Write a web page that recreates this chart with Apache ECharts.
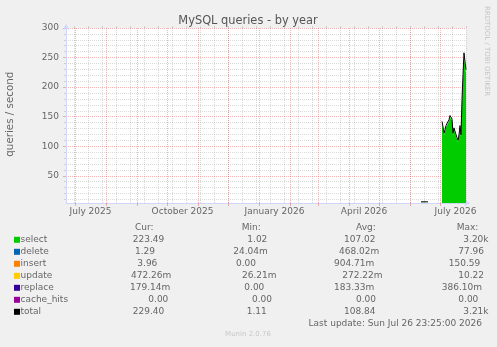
<!DOCTYPE html>
<html><head><meta charset="utf-8">
<script src="https://cdn.jsdelivr.net/npm/echarts@6/dist/echarts.min.js"></script>
<style>html,body{margin:0;padding:0;background:#f0f0f0;}#c{width:497px;height:347px;}</style>
</head><body><div id="c"></div>
<script>
// ---- axis ticks / labels (x in days since 2025-06-22) ----
const monthStarts = [9, 40, 71, 101, 132, 162, 193, 224, 252, 283, 313, 344, 374];
const biweekly = [8, 22, 36, 50, 64, 78, 92, 106, 120, 134, 148, 162, 176, 190, 204, 218, 232, 246, 260, 274, 288, 302, 316, 330, 344, 358, 372, 386, 400];
const monthLabelPos = [24.5, 116.5, 208.5, 298, 389.5];
const monthLabels = ['July 2025', 'October 2025', 'January 2026', 'April 2026', 'July 2026'];
const yMajor = [50, 100, 150, 200, 250, 300];
const yMinor = [10, 20, 30, 40, 60, 70, 80, 90, 110, 120, 130, 140, 160, 170, 180, 190, 210, 220, 230, 240, 260, 270, 280, 290];

// ---- series data ----
const days = [355, 356, 357, 358, 359, 360, 361, 362, 363,
  376, 377, 378, 379, 380, 381, 382, 383, 384, 385, 386, 387, 388, 389, 390, 391, 392, 393, 394, 395, 396, 397, 398, 399, 400];
const select = [4.5, 4.5, 4.5, 4.5, 4.5, 4.5, 4.5, 4.5, null,
  139.17, 130.17, 119.17, 125.17, 132.17, 133.17, 133.67, 142.17, 149.17, 150.17, 143.17, 119.17, 128.17, 130.17, 116.67, 111.67, 107.17, 116.67, 132.17, 116.67, 174.1, 212.75, 250.9, 236.5, 223.49];
const del = [0.6, 0.6, 0.6, 0.6, 0.6, 0.6, 0.6, 0.6, null,
  1.0, 1.0, 1.0, 1.0, 1.0, 1.0, 1.0, 1.0, 1.0, 1.0, 1.0, 1.0, 1.0, 1.0, 1.0, 1.0, 1.0, 1.0, 1.0, 1.0, 1.2, 1.5, 1.4, 1.3, 1.29];
const insert = [0.5, 0.5, 0.5, 0.5, 0.5, 0.5, 0.5, 0.5, null,
  1.2, 1.2, 1.2, 1.2, 1.2, 1.2, 1.2, 1.2, 1.2, 1.2, 1.2, 1.2, 1.2, 1.2, 1.2, 1.2, 1.2, 1.2, 1.2, 1.2, 3.0, 6.0, 5.0, 4.5, 3.96];
const update = [0.3, 0.3, 0.3, 0.3, 0.3, 0.3, 0.3, 0.3, null,
  0.45, 0.45, 0.45, 0.45, 0.45, 0.45, 0.45, 0.45, 0.45, 0.45, 0.45, 0.45, 0.45, 0.45, 0.45, 0.45, 0.45, 0.45, 0.45, 0.45, 0.5, 0.55, 0.5, 0.5, 0.472];
const replace = [0.1, 0.1, 0.1, 0.1, 0.1, 0.1, 0.1, 0.1, null,
  0.18, 0.18, 0.18, 0.18, 0.18, 0.18, 0.18, 0.18, 0.18, 0.18, 0.18, 0.18, 0.18, 0.18, 0.18, 0.18, 0.18, 0.18, 0.18, 0.18, 0.2, 0.2, 0.2, 0.2, 0.179];
const cacheHits = [0, 0, 0, 0, 0, 0, 0, 0, null,
  0, 0, 0, 0, 0, 0, 0, 0, 0, 0, 0, 0, 0, 0, 0, 0, 0, 0, 0, 0, 0, 0, 0, 0, 0];
const total = [6.0, 6.0, 6.0, 6.0, 6.0, 6.0, 6.0, 6.0, null,
  142, 133, 122, 128, 135, 136, 136.5, 145, 152, 153, 146, 122, 131, 133, 119.5, 114.5, 110, 119.5, 135, 119.5, 179, 221, 258, 243, 229.4];

// ---- legend table ----
const legendNames = ['select', 'delete', 'insert', 'update', 'replace', 'cache_hits', 'total'];
const legendColors = ['#00CC00', '#0066B3', '#FF8000', '#FFCC00', '#330099', '#990099', '#000000'];
const colHeaders = ['Cur:', 'Min:', 'Avg:', 'Max:'];
const curVals = ['223.49', '1.29', '3.96', '472.26m', '179.14m', '0.00', '229.40'];
const minVals = ['1.02', '24.04m', '0.00', '26.21m', '0.00', '0.00', '1.11'];
const avgVals = ['107.02', '468.02m', '904.71m', '272.22m', '183.33m', '0.00', '108.84'];
const maxVals = ['3.20k', '77.96', '150.59', '10.22', '386.10m', '0.00', '3.21k'];
const titleText = 'MySQL queries - by year';
const yAxisTitle = 'queries / second';
const lastUpdate = 'Last update: Sun Jul 26 23:25:00 2026';
const footer = 'Munin 2.0.76';
const watermark = 'RRDTOOL / TOBI OETIKER';

// ---- layout (positions only) ----
const colHeaderX = [135, 241.7, 356, 456.7];
const curX = [132.7, 135, 137.3, 131, 130, 148.3, 132.7];
const minX = [247.3, 233.3, 236, 242, 244.3, 252, 246.7];
const avgX = [344, 339, 334, 342.3, 334, 356, 344];
const maxX = [463.3, 458.3, 448.7, 458.3, 441.7, 458.3, 463.3];
const rowY0 = 239.3, rowStep = 12;

const FONT = '"DejaVu Sans"';
const TXT = '#666666';
const MAJOR = 'rgba(222,80,80,0.42)';
const MINOR = 'rgba(140,140,140,0.32)';
const AXIS = '#CFD6F8';

function pts(vals) { return days.map((d, i) => [d, vals[i] == null ? '-' : vals[i]]); }
function txt(s, x, y, size, color, align, rot) {
  return {
    type: 'text', x: x, y: y, rotation: rot || 0, silent: true,
    style: { text: s, x: 0, y: 0, font: size + 'px ' + FONT, fill: color,
      align: align || 'left', textAlign: align || 'left', verticalAlign: 'middle', textVerticalAlign: 'middle' }
  };
}

const graphics = [];
graphics.push(txt(titleText, 248, 21.5, 11.4, '#555555', 'center'));
graphics.push(txt(yAxisTitle, 10.8, 114.2, 10.3, TXT, 'center', Math.PI / 2));
graphics.push(txt(watermark, 487, 51, 7, '#c4c4c4', 'center', -Math.PI / 2));
colHeaders.forEach((h, i) => graphics.push(txt(h, colHeaderX[i], 227.3, 9, TXT, 'left')));
legendNames.forEach((n, i) => {
  const y = rowY0 + i * rowStep;
  graphics.push({ type: 'rect', silent: true, shape: { x: 14, y: y - 2.5, width: 6, height: 6 }, style: { fill: legendColors[i] } });
  graphics.push(txt(n, 20.5, y, 9, TXT, 'left'));
  graphics.push(txt(curVals[i], curX[i], y, 9, TXT, 'left'));
  graphics.push(txt(minVals[i], minX[i], y, 9, TXT, 'left'));
  graphics.push(txt(avgVals[i], avgX[i], y, 9, TXT, 'left'));
  graphics.push(txt(maxVals[i], maxX[i], y, 9, TXT, 'left'));
});
graphics.push(txt(lastUpdate, 482, 323.3, 9, TXT, 'right'));
graphics.push(txt(footer, 248, 334, 7, '#c8c8c8', 'center'));

const stackSeries = [
  ['select', select], ['delete', del], ['insert', insert], ['update', update], ['replace', replace], ['cache_hits', cacheHits]
].map(([name, vals], i) => ({
  name: name, type: 'line', stack: 'q', xAxisIndex: 0, yAxisIndex: 0,
  data: pts(vals), showSymbol: false, symbol: 'none', color: legendColors[i],
  lineStyle: { width: 0 }, areaStyle: { color: legendColors[i], opacity: 1 }, silent: true
}));

const chart = echarts.init(document.getElementById('c'), null, { renderer: 'canvas' });
chart.setOption({
  animation: false,
  backgroundColor: '#f0f0f0',
  grid: { left: 66, top: 28, width: 400, height: 175, show: true, backgroundColor: '#ffffff', borderWidth: 0, containLabel: false },
  xAxis: [
    { type: 'value', min: 0, max: 400, z: 1,
      axisLine: { show: true, lineStyle: { color: AXIS, width: 1 }, symbol: ['none', 'arrow'], symbolSize: [5, 6], symbolOffset: [0, 4] },
      axisTick: { show: true, customValues: monthStarts, length: 3, lineStyle: { color: MAJOR } },
      axisLabel: { customValues: monthLabelPos, margin: 4, color: TXT, fontSize: 9, fontFamily: 'DejaVu Sans',
        formatter: v => { const k = monthLabelPos.indexOf(v); return k >= 0 ? monthLabels[k] : ''; } },
      splitLine: { show: true, lineStyle: { color: MAJOR, width: 1, type: [1, 1] } } },
    { type: 'value', min: 0, max: 400, z: 0,
      axisLine: { show: false }, axisLabel: { show: false },
      axisTick: { show: true, customValues: biweekly, length: 2, lineStyle: { color: MINOR } },
      splitLine: { show: true, lineStyle: { color: MINOR, width: 1, type: [1, 1] } } }
  ],
  yAxis: [
    { type: 'value', min: 4, max: 300, z: 1,
      axisLine: { show: true, lineStyle: { color: AXIS, width: 1 }, symbol: ['none', 'arrow'], symbolSize: [5, 6], symbolOffset: [0, 4] },
      axisTick: { show: true, customValues: yMajor, length: 3, lineStyle: { color: MAJOR } },
      axisLabel: { customValues: yMajor, margin: 7, color: TXT, fontSize: 9, fontFamily: 'DejaVu Sans' },
      splitLine: { show: true, lineStyle: { color: MAJOR, width: 1, type: [1, 1] } } },
    { type: 'value', min: 4, max: 300, z: 0, position: 'left',
      axisLine: { show: false }, axisLabel: { show: false },
      axisTick: { show: true, customValues: yMinor, length: 2, lineStyle: { color: MINOR } },
      splitLine: { show: true, lineStyle: { color: MINOR, width: 1, type: [1, 1] } } }
  ],
  series: stackSeries.concat([{
    name: 'total', type: 'line', xAxisIndex: 0, yAxisIndex: 0, data: pts(total),
    showSymbol: false, symbol: 'none', color: '#000000', lineStyle: { width: 1, color: '#000000' }, silent: true, z: 3
  }]),
  graphic: graphics
});
</script></body></html>
